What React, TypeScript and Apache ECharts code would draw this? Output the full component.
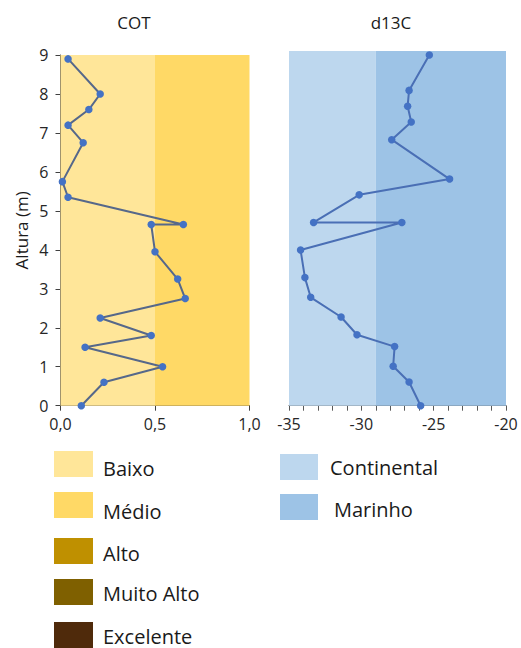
import React, { useEffect, useRef } from "react";
import * as echarts from "echarts";

// ---- data ----
const heights = [8.9, 8.0, 7.6, 7.2, 6.75, 5.75, 5.35, 4.65, 4.65, 3.95, 3.25, 2.75, 2.25, 1.8, 1.5, 1.0, 0.6, 0];
const cotValues = [0.04, 0.21, 0.15, 0.04, 0.12, 0.01, 0.04, 0.65, 0.48, 0.5, 0.62, 0.66, 0.21, 0.48, 0.13, 0.54, 0.23, 0.11];
const d13cValues = [-25.3, -26.7, -26.8, -26.55, -27.9, -23.9, -30.15, -33.3, -27.2, -34.2, -33.9, -33.5, -31.4, -30.3, -27.7, -27.8, -26.7, -25.9];

const cotBands = [
  { name: "Baixo", from: 0, to: 0.5 },
  { name: "Médio", from: 0.5, to: 1.0 },
];
const d13cBands = [
  { name: "Continental", from: -35, to: -29 },
  { name: "Marinho", from: -29, to: -20 },
];
const cotLegend = ["Baixo", "Médio", "Alto", "Muito Alto", "Excelente"];
const d13cLegend = ["Continental", "Marinho"];

const titles = ["COT", "d13C"];
const yAxisName = "Altura (m)";

// ---- styles ----
const FONT = "'Open Sans', sans-serif";
const colorOf: Record<string, string> = {
  Baixo: "#FFE699",
  Médio: "#FFD966",
  Alto: "#BF9000",
  "Muito Alto": "#7F6000",
  Excelente: "#4F2A0B",
  Continental: "#BDD7EE",
  Marinho: "#9DC3E6",
};

export default function App() {
  const ref = useRef<HTMLDivElement>(null);
  useEffect(() => {
    if (!ref.current) return;
    const chart = echarts.init(ref.current, undefined, { renderer: "svg" });

    const cotLegendRectTops = [451, 492, 538, 579, 622];
    const cotLegendTextY = [468, 511, 553, 593, 636];
    const d13cLegendRectTops = [454, 494];
    const d13cLegendTextY = [467, 509];
    const d13cLegendTextX = [330, 334];

    const graphics: any[] = [];
    cotLegend.forEach((name, i) => {
      graphics.push({
        type: "rect",
        shape: { x: 54, y: cotLegendRectTops[i], width: 39, height: 26 },
        style: { fill: colorOf[name] },
      });
      graphics.push({
        type: "text",
        style: {
          x: 103,
          y: cotLegendTextY[i],
          text: name,
          fontSize: 20,
          fontFamily: FONT,
          fill: "#1a1a1a",
          verticalAlign: "middle",
        },
      });
    });
    d13cLegend.forEach((name, i) => {
      graphics.push({
        type: "rect",
        shape: { x: 280, y: d13cLegendRectTops[i], width: 38, height: 26 },
        style: { fill: colorOf[name] },
      });
      graphics.push({
        type: "text",
        style: {
          x: d13cLegendTextX[i],
          y: d13cLegendTextY[i],
          text: name,
          fontSize: 20,
          fontFamily: FONT,
          fill: "#1a1a1a",
          verticalAlign: "middle",
        },
      });
    });
    const titleX = [134, 391];
    titles.forEach((t, i) => {
      graphics.push({
        type: "text",
        style: {
          x: titleX[i],
          y: 22,
          text: t,
          fontSize: 17,
          fontFamily: FONT,
          fill: "#1a1a1a",
          align: "center",
          verticalAlign: "middle",
        },
      });
    });

    const axisColor = "#404040";
    const labelStyle = { color: "#262626", fontSize: 16, fontFamily: FONT };

    chart.setOption({
      animation: false,
      textStyle: { fontFamily: FONT },
      grid: [
        { left: 60.5, top: 55, width: 189, height: 350.7 },
        { left: 289, top: 51, width: 217, height: 354.7 },
      ],
      xAxis: [
        {
          type: "value",
          gridIndex: 0,
          min: 0,
          max: 1,
          interval: 0.5,
          axisLine: { show: true, lineStyle: { color: axisColor } },
          axisTick: { show: true, length: 5, lineStyle: { color: axisColor } },
          splitLine: { show: false },
          axisLabel: {
            ...labelStyle,
            margin: 10,
            formatter: (v: number) => v.toFixed(1).replace(".", ","),
          },
        },
        {
          type: "value",
          gridIndex: 1,
          min: -35,
          max: -20,
          interval: 5,
          axisLine: { show: true, lineStyle: { color: "#595959" } },
          axisTick: { show: true, length: 5, lineStyle: { color: "#595959" } },
          minorTick: { show: true, splitNumber: 5, length: 5, lineStyle: { color: "#595959" } },
          splitLine: { show: false },
          axisLabel: { ...labelStyle, margin: 10 },
        },
      ],
      yAxis: [
        {
          type: "value",
          gridIndex: 0,
          min: 0,
          max: 9,
          interval: 1,
          axisLine: { show: true, lineStyle: { color: axisColor } },
          axisTick: { show: true, length: 5, lineStyle: { color: axisColor } },
          splitLine: { show: false },
          axisLabel: { ...labelStyle, margin: 12 },
          name: yAxisName,
          nameLocation: "middle",
          nameRotate: 90,
          nameGap: 31,
          nameTextStyle: { color: "#1a1a1a", fontSize: 17, fontFamily: FONT },
        },
        {
          type: "value",
          gridIndex: 1,
          min: 0,
          max: 9,
          interval: 1,
          show: false,
          splitLine: { show: false },
        },
      ],
      series: [
        {
          type: "line",
          xAxisIndex: 0,
          yAxisIndex: 0,
          data: heights.map((h, i) => [cotValues[i], h]),
          symbol: "circle",
          symbolSize: 7.5,
          itemStyle: { color: "#4472C4" },
          lineStyle: { color: "#56688a", width: 2 },
          emphasis: { disabled: true },
          silent: true,
          z: 3,
          markArea: {
            silent: true,
            data: cotBands.map((b) => [
              { xAxis: b.from, yAxis: 0, itemStyle: { color: colorOf[b.name], opacity: 1 } },
              { xAxis: b.to, yAxis: 9 },
            ]),
          },
        },
        {
          type: "line",
          xAxisIndex: 1,
          yAxisIndex: 1,
          data: heights.map((h, i) => [d13cValues[i], h]),
          symbol: "circle",
          symbolSize: 7.5,
          itemStyle: { color: "#4472C4" },
          lineStyle: { color: "#4a6fb5", width: 2 },
          emphasis: { disabled: true },
          silent: true,
          z: 3,
          markArea: {
            silent: true,
            data: d13cBands.map((b) => [
              { xAxis: b.from, yAxis: 0, itemStyle: { color: colorOf[b.name], opacity: 1 } },
              { xAxis: b.to, yAxis: 9 },
            ]),
          },
        },
      ],
      graphic: graphics,
    });
    return () => chart.dispose();
  }, []);
  return (
    <div
      ref={ref}
      style={{ position: "absolute", left: 0, top: 0, width: 521, height: 648, background: "#fff" }}
    />
  );
}
